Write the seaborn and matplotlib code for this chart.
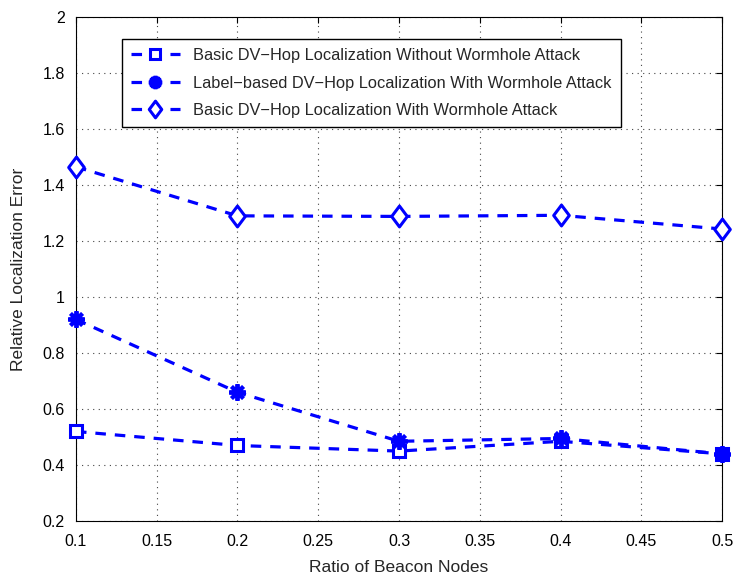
import matplotlib
matplotlib.use("Agg")
import matplotlib.pyplot as plt
from matplotlib.path import Path
import seaborn as sns
import pandas as pd

# data
ratio = [0.1, 0.2, 0.3, 0.4, 0.5]
basic_no_attack = [0.52, 0.47, 0.45, 0.485, 0.44]
label_based_attack = [0.92, 0.66, 0.485, 0.495, 0.44]
basic_attack = [1.465, 1.29, 1.288, 1.292, 1.243]

series_names = [
    "Basic DV\u2212Hop Localization Without Wormhole Attack",
    "Label\u2212based DV\u2212Hop Localization With Wormhole Attack",
    "Basic DV\u2212Hop Localization With Wormhole Attack",
]

sns.set_style("white")
plt.rcParams['font.family'] = ['Liberation Sans', 'DejaVu Sans']

fig = plt.figure(figsize=(7.34, 5.79), dpi=100)
ax = fig.add_axes([0.1035, 0.100, 0.8802, 0.8706])

blue = "#0000ff"
# MATLAB-like diamond, a bit wider than matplotlib's thin one
diamond = Path([(0, -1), (0.75, 0), (0, 1), (-0.75, 0), (0, -1)],
               [Path.MOVETO, Path.LINETO, Path.LINETO, Path.LINETO, Path.CLOSEPOLY])
styles = [
    dict(marker="s", markersize=9, markerfacecolor="white", markeredgewidth=2.2),
    dict(marker=(8, 2, 0), markersize=12, markerfacecolor=blue, markeredgewidth=2.8),
    dict(marker=diamond, markersize=15, markerfacecolor="white", markeredgewidth=2.2),
]

for name, vals, st in zip(series_names, [basic_no_attack, label_based_attack, basic_attack], styles):
    df = pd.DataFrame({"x": ratio, "y": vals})
    sns.lineplot(data=df, x="x", y="y", ax=ax, color=blue, linewidth=2.3,
                 linestyle=(0, (3.3, 2.8)), markeredgecolor=blue, label=name,
                 clip_on=False, zorder=5, **st)

ax.set_xlim(0.1, 0.5)
ax.set_ylim(0.2, 2.0)
ax.set_xticks([0.1, 0.15, 0.2, 0.25, 0.3, 0.35, 0.4, 0.45, 0.5])
ax.set_xticklabels(["0.1", "0.15", "0.2", "0.25", "0.3", "0.35", "0.4", "0.45", "0.5"])
ax.set_yticks([0.2, 0.4, 0.6, 0.8, 1.0, 1.2, 1.4, 1.6, 1.8, 2.0])
ax.set_yticklabels(["0.2", "0.4", "0.6", "0.8", "1", "1.2", "1.4", "1.6", "1.8", "2"])
ax.tick_params(direction="in", length=4, labelsize=11.5, top=True, right=True, colors="black")
ax.tick_params(axis="x", pad=9)
ax.tick_params(axis="y", pad=8)
ax.grid(True, linestyle=(0, (1, 4)), color="#444444", linewidth=0.8)
for sp in ax.spines.values():
    sp.set_color("black")
    sp.set_linewidth(0.8)

ax.set_xlabel("Ratio of Beacon Nodes", fontsize=12.5, labelpad=8)
ax.set_ylabel("Relative Localization Error", fontsize=12.5, labelpad=12)

leg = ax.legend(loc="upper left", bbox_to_anchor=(0.071, 0.956), borderaxespad=0,
                fontsize=11.8, frameon=True, fancybox=False, framealpha=1, edgecolor="black",
                handlelength=3.0, handletextpad=0.8, borderpad=0.55, labelspacing=0.75,
                markerscale=0.8)
leg.get_frame().set_linewidth(1.0)

fig.savefig("out.png", dpi=100, facecolor="white")
